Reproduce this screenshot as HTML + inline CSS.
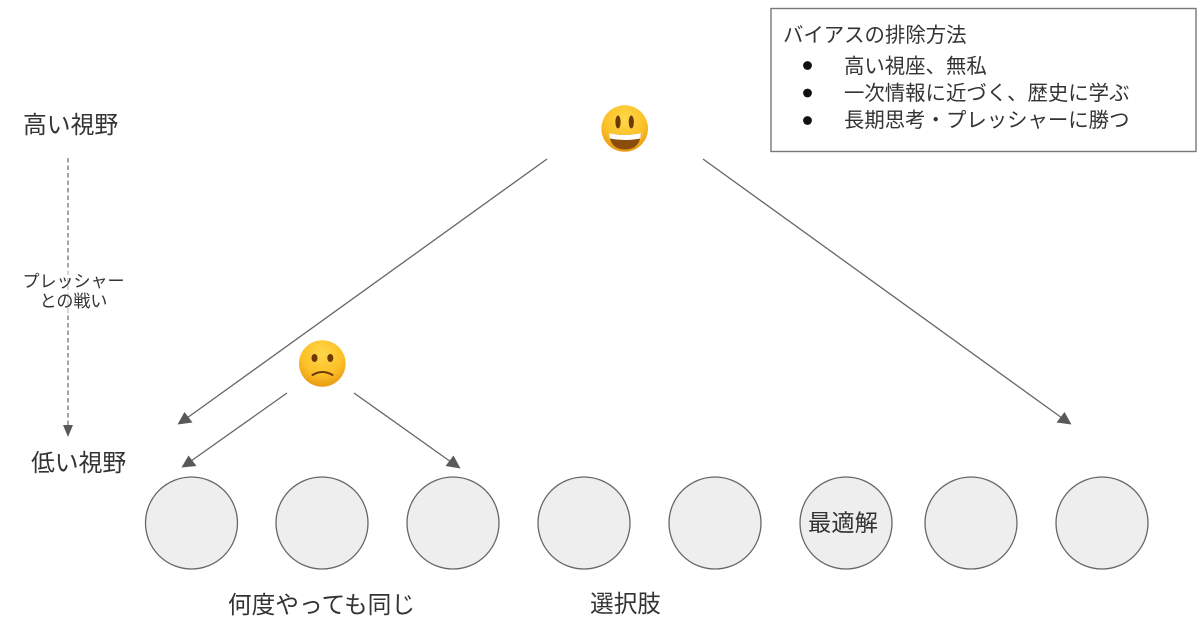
<!DOCTYPE html>
<html lang="ja">
<head>
<meta charset="utf-8">
<style>
html,body{margin:0;padding:0;background:#fff;width:1200px;height:621px;overflow:hidden}
svg{display:block}
text{font-family:"Liberation Sans","Noto Sans CJK JP",sans-serif;fill:#333}
</style>
</head>
<body>
<svg width="1200" height="621" viewBox="0 0 1200 621" xmlns="http://www.w3.org/2000/svg">
<defs>
<radialGradient id="g" cx="50%" cy="30%" r="70%">
<stop offset="0" stop-color="#ffd84a"/><stop offset=".65" stop-color="#fbbf26"/><stop offset="1" stop-color="#e89a15"/>
</radialGradient>
</defs>

<rect x="771" y="8.5" width="425" height="143" fill="#fff" stroke="#777" stroke-width="1.4"/>
<text x="783" y="42" font-size="20.4">バイアスの排除方法</text>
<circle cx="807.5" cy="65.5" r="4.4" fill="#111"/>
<circle cx="807.5" cy="93" r="4.4" fill="#111"/>
<circle cx="807.5" cy="120.5" r="4.4" fill="#111"/>
<text x="844" y="73" font-size="20.4">高い視座、無私</text>
<text x="844" y="100" font-size="20.4">一次情報に近づく、歴史に学ぶ</text>
<text x="844" y="127" font-size="20.4">長期思考・プレッシャーに勝つ</text>

<text x="23" y="133" font-size="23.8">高い視野</text>
<text x="31" y="471" font-size="23.8">低い視野</text>

<line x1="68" y1="158" x2="68" y2="426" stroke="#777" stroke-width="1.3" stroke-dasharray="4.5 3"/>
<polygon points="63,425 73,425 68,437" fill="#595959"/>
<rect x="22" y="270" width="103" height="42" fill="#fff" fill-opacity="0.55"/>
<text x="73.5" y="287" font-size="17" text-anchor="middle">プレッシャー</text>
<text x="73.5" y="307" font-size="17" text-anchor="middle">との戦い</text>

<g stroke="#666" stroke-width="1.3" fill="none">
<line x1="547" y1="159" x2="187" y2="418"/>
<line x1="703" y1="159" x2="1062" y2="418"/>
<line x1="287" y1="393" x2="191" y2="461"/>
<line x1="354" y1="393" x2="451" y2="462"/>
</g>
<g fill="#595959">
<polygon points="177.5,424.5 184.5,412 192.5,422.5"/>
<polygon points="1071.5,424.5 1056.5,422.5 1064.5,412"/>
<polygon points="181.5,467.5 188.5,455.5 196.5,466"/>
<polygon points="460.5,468.5 445.5,466 453.5,455.5"/>
</g>

<g fill="#eeeeee" stroke="#666" stroke-width="1.3">
<circle cx="191.5" cy="523" r="46"/>
<circle cx="322" cy="523" r="46"/>
<circle cx="453" cy="523" r="46"/>
<circle cx="584" cy="523" r="46"/>
<circle cx="715" cy="523" r="46"/>
<circle cx="846" cy="523" r="46"/>
<circle cx="971" cy="523" r="46"/>
<circle cx="1102" cy="523" r="46"/>
</g>
<text x="843" y="531" font-size="23.3" text-anchor="middle">最適解</text>
<text x="321.5" y="613" font-size="23.7" text-anchor="middle">何度やっても同じ</text>
<text x="625.5" y="612" font-size="23.6" text-anchor="middle">選択肢</text>

<!-- happy face -->
<circle cx="624.7" cy="128.5" r="23.3" fill="url(#g)"/>
<ellipse cx="618" cy="122" rx="2.6" ry="6.5" fill="#6b3a08"/>
<ellipse cx="631.3" cy="122" rx="2.6" ry="6.5" fill="#6b3a08"/>
<path d="M609,133 Q625,137 641,133 Q640,149.5 625,149.5 Q610,149.5 609,133Z" fill="#8a4d0c"/>
<path d="M609,133 Q625,137 641,133 L640.3,138.5 Q625,141.5 609.7,138.5Z" fill="#fff"/>

<!-- sad face -->
<circle cx="322.3" cy="363.5" r="23.3" fill="url(#g)"/>
<ellipse cx="314.5" cy="358" rx="3" ry="4" fill="#6b3a08"/>
<ellipse cx="330.3" cy="358" rx="3" ry="4" fill="#6b3a08"/>
<path d="M312.5,375 Q322.5,369 332.5,375" fill="none" stroke="#6b3a08" stroke-width="2" stroke-linecap="round"/>
</svg>
</body>
</html>
